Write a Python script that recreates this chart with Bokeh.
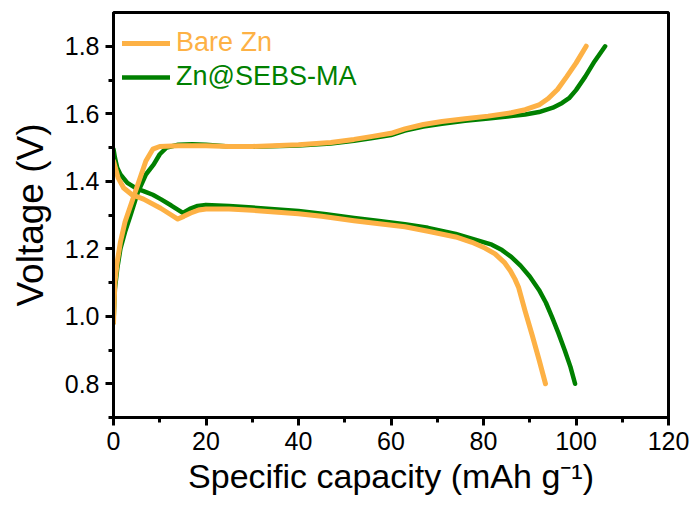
from bokeh.plotting import figure
from bokeh.models import (Range1d, SingleIntervalTicker, PrintfTickFormatter,
                          Legend, LegendItem)
from bokeh.embed import file_html
from bokeh.resources import INLINE

# ---- data ----
bare_charge_x = [0, 0.3, 0.8, 1.5, 2.5, 4.0, 5.5, 7.0, 8.5, 10, 14, 20, 25, 30, 40, 47, 52, 56,
                 60, 63, 67, 71, 76, 81, 86, 89, 92, 94, 96, 98, 100, 102.2]
bare_charge_v = [0.98, 1.10, 1.16, 1.22, 1.28, 1.34, 1.40, 1.46, 1.495, 1.503, 1.505, 1.505,
                 1.503, 1.503, 1.508, 1.515, 1.524, 1.533, 1.542, 1.555, 1.568, 1.577, 1.585,
                 1.593, 1.603, 1.612, 1.626, 1.645, 1.672, 1.71, 1.75, 1.80]

sebs_charge_x = [0, 0.3, 0.8, 1.5, 2.5, 3.7, 5.2, 7, 8.7, 10, 11.5, 14, 17, 20, 25, 30, 40, 47,
                 52, 56, 60, 63, 67, 71, 76, 81, 86, 89, 92, 95, 97, 98.5, 100, 102, 104, 106.3]
sebs_charge_v = [0.98, 1.08, 1.14, 1.20, 1.25, 1.30, 1.365, 1.42, 1.45, 1.48, 1.50, 1.508,
                 1.51, 1.508, 1.503, 1.502, 1.506, 1.512, 1.52, 1.528, 1.537, 1.55, 1.562,
                 1.57, 1.579, 1.586, 1.593, 1.598, 1.605, 1.618, 1.632, 1.646, 1.67, 1.71,
                 1.755, 1.80]

bare_dis_x = [0, 0.4, 1.0, 2.2, 4, 6.5, 10.2, 12.5, 13.9, 15.2, 16.7, 18.5, 20, 25, 30, 40, 45,
              52, 57, 63, 68, 74, 77.5, 80.3, 82.5, 84.6, 85.8, 86.8, 87.6, 89, 90.5, 92, 93.4]
bare_dis_v = [1.46, 1.44, 1.41, 1.38, 1.36, 1.347, 1.32, 1.30, 1.288, 1.296, 1.306, 1.315,
              1.318, 1.318, 1.314, 1.304, 1.296, 1.283, 1.275, 1.265, 1.252, 1.235, 1.219,
              1.202, 1.185, 1.158, 1.135, 1.11, 1.085, 1.015, 0.945, 0.872, 0.80]

sebs_dis_x = [0, 0.3, 0.8, 1.5, 3, 5, 6.5, 8.5, 10.2, 12.5, 15, 16.5, 18.2, 20, 25, 30, 40, 46,
              52, 57, 63, 68, 74, 78, 81.8, 84, 86, 88, 90, 92, 93.5, 94.8, 96.2, 97.6, 98.8, 99.8]
sebs_dis_v = [1.495, 1.47, 1.44, 1.42, 1.395, 1.378, 1.371, 1.36, 1.347, 1.328, 1.306, 1.318,
              1.327, 1.33, 1.327, 1.322, 1.312, 1.302, 1.291, 1.283, 1.273, 1.262, 1.244,
              1.228, 1.212, 1.196, 1.176, 1.150, 1.118, 1.078, 1.04, 0.998, 0.95, 0.898,
              0.85, 0.80]

series_names = ["Bare Zn", "Zn@SEBS-MA"]
ORANGE = "#FDB145"
GREEN = "#008000"
FONT = "Liberation Sans"

p = figure(width=695, height=510, output_backend="svg", toolbar_location=None,
           x_range=Range1d(0, 120), y_range=Range1d(0.7, 1.9),
           min_border_left=113, min_border_right=27, min_border_top=12,
           min_border_bottom=93)
p.background_fill_color = "white"
p.border_fill_color = "white"
p.grid.visible = False
p.outline_line_color = "black"
p.outline_line_width = 3

g1 = p.line(sebs_charge_x, sebs_charge_v, line_color=GREEN, line_width=4.5, line_cap="round", line_join="round")
g2 = p.line(sebs_dis_x, sebs_dis_v, line_color=GREEN, line_width=4.5, line_cap="round", line_join="round")
o1 = p.line(bare_charge_x, bare_charge_v, line_color=ORANGE, line_width=5, line_cap="round", line_join="round")
o2 = p.line(bare_dis_x, bare_dis_v, line_color=ORANGE, line_width=5, line_cap="round", line_join="round")

# axes
p.xaxis.ticker = SingleIntervalTicker(interval=20, num_minor_ticks=2)
p.yaxis.ticker = SingleIntervalTicker(interval=0.2, num_minor_ticks=2)
p.yaxis.formatter = PrintfTickFormatter(format="%.1f")
p.xaxis.axis_label = "Specific capacity (mAh g\u207b\u00b9)"
p.yaxis.axis_label = "Voltage (V)"
for ax in (p.xaxis, p.yaxis):
    ax.axis_line_width = 3
    ax.axis_line_color = "black"
    ax.major_tick_line_width = 3
    ax.minor_tick_line_width = 3
    ax.major_tick_out = 8
    ax.major_tick_in = 0
    ax.minor_tick_out = 5
    ax.minor_tick_in = 0
    ax.major_label_text_font = FONT
    ax.major_label_text_font_size = "25px"
    ax.major_label_text_color = "black"
    ax.axis_label_text_font = FONT
    ax.axis_label_text_font_style = "normal"
    ax.axis_label_text_color = "black"
p.xaxis.axis_label_text_font_size = "34px"
p.yaxis.axis_label_text_font_size = "37px"
p.xaxis.major_label_standoff = 6
p.yaxis.major_label_standoff = 6
p.xaxis.axis_label_standoff = 4
p.yaxis.axis_label_standoff = 11

def make_legend(label, renderer, color, loc):
    lg = Legend(items=[LegendItem(label=label, renderers=[renderer])], location=loc)
    lg.label_text_color = color
    lg.label_text_font = FONT
    lg.label_text_font_size = "27px"
    lg.background_fill_alpha = 0
    lg.border_line_alpha = 0
    lg.padding = 0
    lg.margin = 0
    lg.glyph_width = 48
    lg.glyph_height = 30
    lg.label_height = 30
    lg.label_standoff = 6
    return lg

p.add_layout(make_legend(series_names[0], o1, ORANGE, (9, 359)))
p.add_layout(make_legend(series_names[1], g1, GREEN, (9, 325)))

open("out.html", "w").write(file_html(p, INLINE))
